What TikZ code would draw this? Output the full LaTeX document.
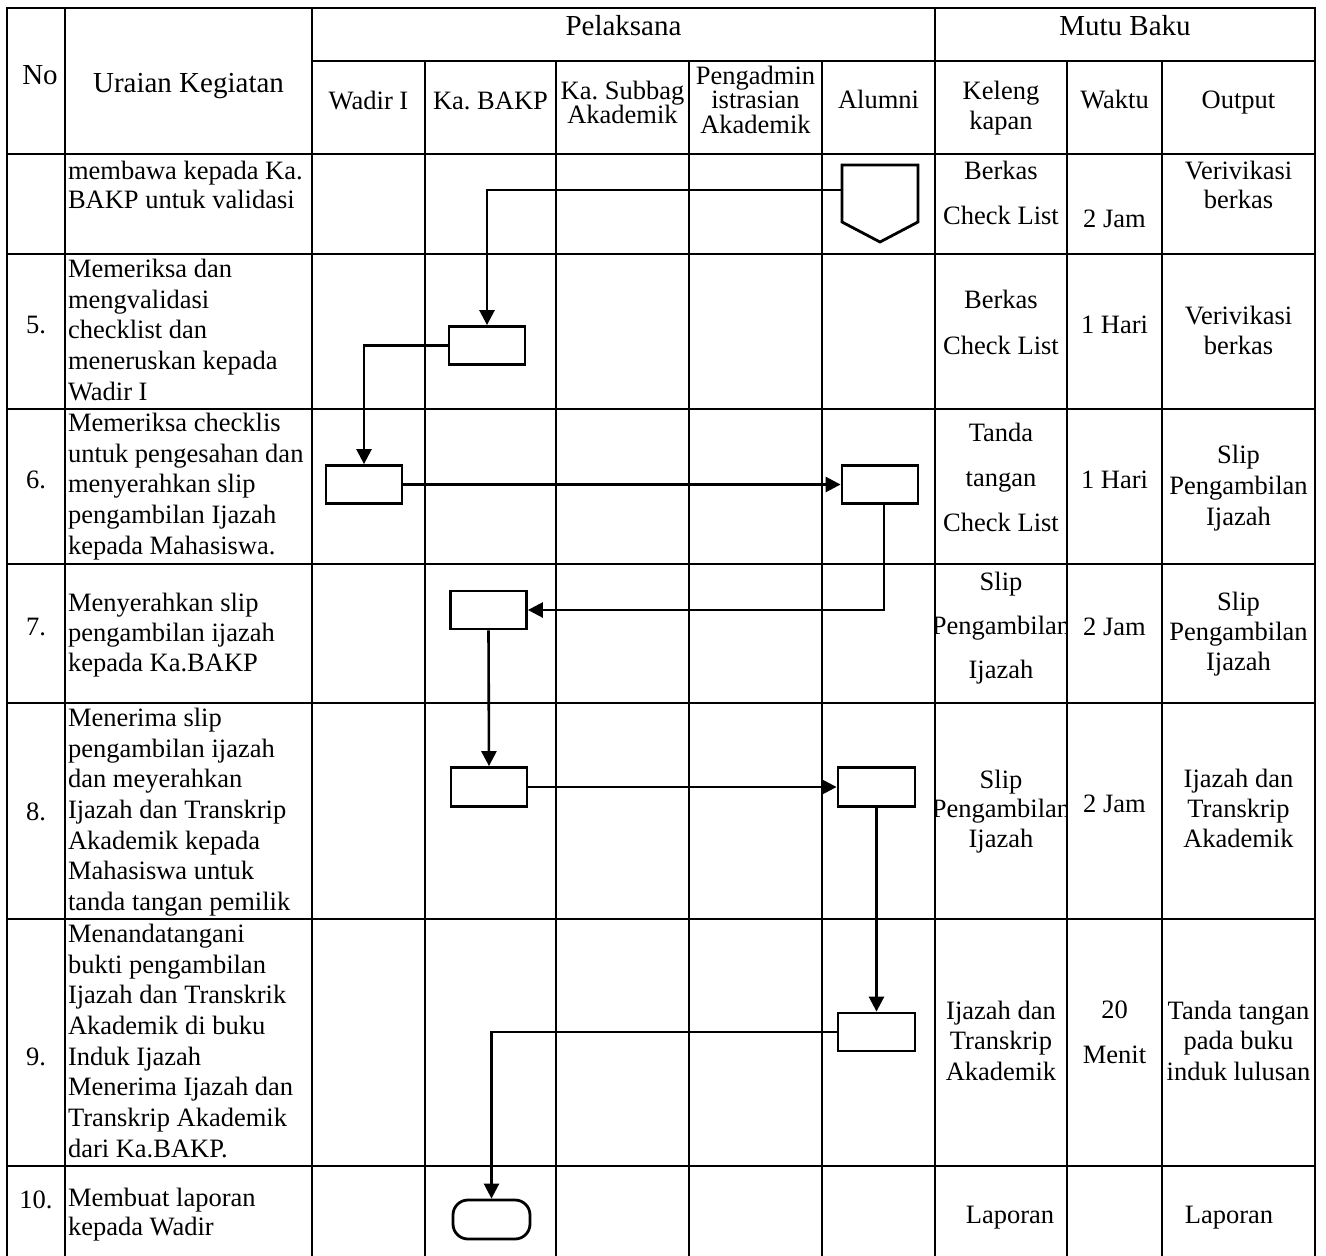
\documentclass[tikz,border=0pt]{standalone}
\usepackage{fontspec}
\setmainfont{Liberation Serif}
\usetikzlibrary{arrows.meta}
\newcommand\tstrut{\rule{0pt}{20pt}}
\begin{document}
\frenchspacing
\begin{tikzpicture}[x=1pt,y=-1pt,
  grid/.style={line width=1.3pt, line cap=rect},
  txt/.style={inner sep=0pt, outer sep=0pt, font=\fontsize{26.5}{30.5}\selectfont, execute at begin node=\tstrut},
  lft/.style={txt, align=left, anchor=north west},
  ctr/.style={txt, align=center, anchor=north},
  hdr/.style={ctr, font=\fontsize{29}{33}\selectfont},
  lsk/.style={font=\fontsize{26.5}{#1}\selectfont},
  box/.style={draw, line width=2.8pt, minimum width=76pt, minimum height=38pt, inner sep=0pt},
  flow/.style={line width=2.6pt},
  arr/.style={flow, -{Triangle[length=15pt,width=15pt]}},
]
\fill[white] (0,0) rectangle (1326,1256);
\useasboundingbox (0,0) rectangle (1326,1256);

% ---------- table grid ----------
\foreach \yy in {8,154,254,409,564,703,919,1166}
  \draw[grid] (7,\yy) -- (1315,\yy);
\draw[grid] (312,61) -- (1315,61);
\foreach \xx in {7,65,312,935,1315}
  \draw[grid] (\xx,8) -- (\xx,1256);
\foreach \xx in {425,556,689,822,1067,1162}
  \draw[grid] (\xx,61) -- (\xx,1256);

% ---------- headers ----------
\node[hdr] (hNo) at (40,64) {No};
\node[hdr] (hUr) at (188.5,72) {Uraian Kegiatan};
\node[hdr] (hPel) at (623.5,15) {Pelaksana};
\node[hdr] (hMutu) at (1125,15) {Mutu Baku};
\node[ctr] (hWadir) at (368.5,89) {Wadir I};
\node[ctr] (hBakp) at (490.5,89) {Ka. BAKP};
\node[ctr,lsk=24.5] (hSub) at (622.5,81) {Ka. Subbag\\Akademik};
\node[ctr,lsk=24.5] (hPeng) at (755.5,66) {Pengadmin\\istrasian\\Akademik};
\node[ctr] (hAlum) at (878.5,88) {Alumni};
\node[ctr,lsk=30] (hKel) at (1001,81) {Keleng\\kapan};
\node[ctr] (hWak) at (1114.5,88) {Waktu};
\node[ctr] (hOut) at (1238.5,88) {Output};

% ---------- numbers ----------
\node[ctr] (n5) at (36,313) {5.};
\node[ctr] (n6) at (36,468) {6.};
\node[ctr] (n7) at (36,615) {7.};
\node[ctr] (n8) at (36,800) {8.};
\node[ctr] (n9) at (36,1045) {9.};
\node[ctr] (n10) at (36,1188) {10.};

% ---------- uraian kegiatan ----------
\node[lft,lsk=29] (u4) at (68,161) {membawa kepada Ka.\\BAKP untuk validasi};
\node[lft,lsk=30.7] (u5) at (68,259) {Memeriksa dan\\mengvalidasi\\checklist dan\\meneruskan kepada\\Wadir I};
\node[lft,lsk=30.7] (u6) at (68,413) {Memeriksa checklis\\untuk pengesahan dan\\menyerahkan slip\\pengambilan Ijazah\\kepada Mahasiswa.};
\node[lft,lsk=30] (u7) at (68,593) {Menyerahkan slip\\pengambilan ijazah\\kepada Ka.BAKP};
\node[lft,lsk=30.7] (u8) at (68,708) {Menerima slip\\pengambilan ijazah\\dan meyerahkan\\Ijazah dan Transkrip\\Akademik kepada\\Mahasiswa untuk\\tanda tangan pemilik};
\node[lft,lsk=30.7] (u9) at (68,924) {Menandatangani\\bukti pengambilan\\Ijazah dan Transkrik\\Akademik di buku\\Induk Ijazah\\Menerima Ijazah dan\\Transkrip Akademik\\dari Ka.BAKP.};
\node[lft,lsk=29] (u10) at (68,1188) {Membuat laporan\\kepada Wadir};

% ---------- mutu baku ----------
\node[ctr,lsk=45.5] (k4) at (1001,161) {Berkas\\Check List};
\node[ctr] (wk4) at (1114.5,207) {2 Jam};
\node[ctr,lsk=29] (o4) at (1238.5,161) {Verivikasi\\berkas};

\node[ctr,lsk=46.5] (k5) at (1001,290) {Berkas\\Check List};
\node[ctr] (wk5) at (1114.5,313) {1 Hari};
\node[ctr,lsk=30] (o5) at (1238.5,306) {Verivikasi\\berkas};

\node[ctr,lsk=45] (k6) at (1001,423) {Tanda\\tangan\\Check List};
\node[ctr] (wk6) at (1114.5,468) {1 Hari};
\node[ctr,lsk=31] (o6) at (1238.5,445) {Slip\\Pengambilan\\Ijazah};

\begin{scope}
  \clip (935,564) rectangle (1067,703);
  \node[ctr,lsk=44] (k7) at (1001,572) {Slip\\Pengambilan\\Ijazah};
\end{scope}
\node[ctr] (wk7) at (1114.5,615) {2 Jam};
\node[ctr,lsk=30] (o7) at (1238.5,592) {Slip\\Pengambilan\\Ijazah};

\begin{scope}
  \clip (935,703) rectangle (1067,919);
  \node[ctr,lsk=29.5] (k8) at (1001,770) {Slip\\Pengambilan\\Ijazah};
\end{scope}
\node[ctr] (wk8) at (1114.5,792) {2 Jam};
\node[ctr,lsk=30] (o8) at (1238.5,769) {Ijazah dan\\Transkrip\\Akademik};

\node[ctr,lsk=30.5] (k9) at (1001,1001) {Ijazah dan\\Transkrip\\Akademik};
\node[ctr,lsk=44.5] (wk9) at (1114.5,1001) {20\\Menit};
\node[ctr,lsk=30.5] (o9) at (1238.5,1001) {Tanda tangan\\pada buku\\induk lulusan};

\node[ctr] (k10) at (1010,1203) {Laporan};
\node[ctr] (o10) at (1229,1203) {Laporan};

% ---------- flow symbols ----------
\node[inner sep=0pt, outer sep=0pt, minimum width=76pt, minimum height=77pt] (c4) at (880,203.5) {};
\draw[line width=2.8pt] (c4.north west) -- (c4.north east) -- ([yshift=20pt]c4.south east)
  -- (c4.south) -- ([yshift=20pt]c4.south west) -- cycle;
\node[box] (b5) at (487,345.5) {};
\node[box] (w6) at (364,484.5) {};
\node[box] (a6) at (880,484.5) {};
\node[box] (b7) at (488.5,610) {};
\node[box, minimum height=39pt] (b8) at (489,787) {};
\node[box, minimum width=77pt, minimum height=39pt] (a8) at (876.5,787) {};
\node[box, minimum width=77pt] (a9) at (876.5,1032) {};
\node[box, rounded corners=15pt, minimum width=77pt, minimum height=39pt] (t10) at (491.5,1219.5) {};

% ---------- connectors ----------
\draw[arr] ([yshift=-25pt]c4.north west) -| (b5.north);
\draw[arr] (b5.west) -| (w6.north);
\draw[arr] (w6.east) -- (a6.west);
\draw[arr] ([xshift=4pt]a6.south) |- (b7.east);
\draw[arr] (b7.south) -- (b8.north);
\draw[arr] (b8.east) -- (a8.west);
\draw[arr] (a8.south) -- (a9.north);
\draw[arr] (a9.west) -| (t10.north);
\end{tikzpicture}
\end{document}
